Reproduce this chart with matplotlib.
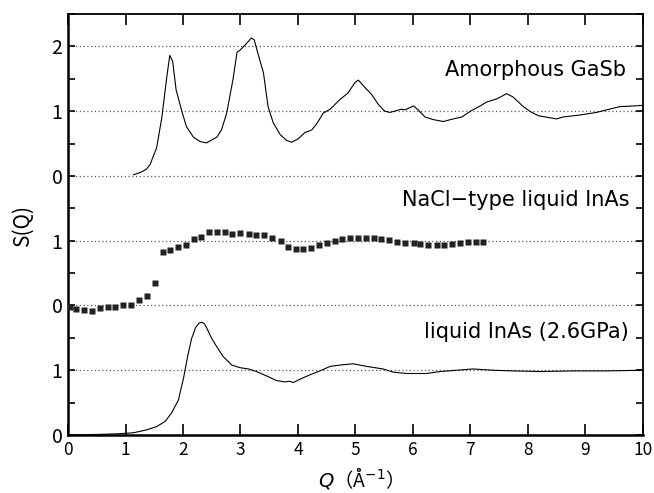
import numpy as np
import matplotlib.pyplot as plt
from matplotlib.ticker import MultipleLocator, FixedLocator

plt.rcParams['font.family'] = ['Noto Sans CJK JP', 'DejaVu Sans']

# amorphous GaSb, S(Q)
q_gasb = [1.14, 1.25, 1.36, 1.43, 1.49, 1.54, 1.63, 1.72, 1.77, 1.82, 1.88, 1.98,
          2.06, 2.18, 2.30, 2.41, 2.59, 2.67, 2.76, 2.87, 2.94, 2.99, 3.11, 3.19,
          3.24, 3.31, 3.40, 3.48, 3.57, 3.69, 3.80, 3.89, 4.00, 4.12, 4.24, 4.33,
          4.44, 4.56, 4.73, 4.87, 4.99, 5.05, 5.17, 5.28, 5.40, 5.51, 5.60, 5.72,
          5.80, 5.86, 6.01, 6.09, 6.21, 6.35, 6.53, 6.70, 6.85, 7.02, 7.17, 7.28,
          7.46, 7.63, 7.74, 7.92, 8.03, 8.18, 8.50, 8.61, 8.90, 9.19, 9.37, 9.60,
          9.83, 10.0]
s_gasb = [0.02, 0.05, 0.10, 0.18, 0.32, 0.43, 0.89, 1.54, 1.86, 1.77, 1.33, 1.00,
          0.76, 0.60, 0.53, 0.51, 0.60, 0.71, 0.97, 1.49, 1.91, 1.94, 2.05, 2.13,
          2.10, 1.87, 1.59, 1.07, 0.82, 0.64, 0.55, 0.52, 0.57, 0.67, 0.71, 0.81,
          0.97, 1.03, 1.18, 1.28, 1.44, 1.48, 1.36, 1.26, 1.10, 1.00, 0.98, 1.01,
          1.03, 1.02, 1.08, 1.02, 0.91, 0.87, 0.84, 0.88, 0.91, 1.01, 1.08, 1.14,
          1.19, 1.27, 1.22, 1.07, 1.00, 0.93, 0.88, 0.91, 0.94, 0.98, 1.02, 1.07,
          1.08, 1.09]

# NaCl-type liquid InAs, S(Q)
q_nacl = [0.03, 0.14, 0.28, 0.42, 0.56, 0.69, 0.82, 0.96, 1.10, 1.23, 1.37, 1.51,
          1.65, 1.78, 1.91, 2.05, 2.19, 2.32, 2.46, 2.60, 2.73, 2.86, 3.00, 3.14,
          3.27, 3.41, 3.55, 3.70, 3.83, 3.97, 4.09, 4.23, 4.37, 4.50, 4.64, 4.77,
          4.90, 5.04, 5.18, 5.32, 5.45, 5.59, 5.73, 5.86, 6.01, 6.13, 6.27, 6.41,
          6.54, 6.68, 6.82, 6.96, 7.09, 7.22]
s_nacl = [-0.03, -0.05, -0.07, -0.08, -0.04, -0.02, -0.03, 0.00, 0.01, 0.08, 0.14, 0.35,
          0.82, 0.86, 0.91, 0.94, 1.02, 1.05, 1.13, 1.14, 1.14, 1.11, 1.12, 1.11,
          1.09, 1.09, 1.04, 0.99, 0.90, 0.87, 0.87, 0.89, 0.93, 0.96, 1.00, 1.02,
          1.04, 1.04, 1.04, 1.04, 1.02, 1.01, 0.98, 0.97, 0.96, 0.95, 0.94, 0.93,
          0.93, 0.95, 0.96, 0.98, 0.98, 0.98]

# liquid InAs at 2.6 GPa, S(Q)
q_inas = [0.0, 0.56, 0.90, 1.14, 1.37, 1.54, 1.69, 1.80, 1.92, 2.01, 2.08, 2.15,
          2.22, 2.28, 2.33, 2.37, 2.42, 2.50, 2.59, 2.70, 2.85, 2.99, 3.14, 3.28,
          3.46, 3.63, 3.77, 3.86, 3.92, 4.03, 4.21, 4.38, 4.56, 4.73, 4.96, 5.19,
          5.48, 5.66, 5.89, 6.24, 6.47, 6.76, 7.05, 7.40, 7.74, 8.21, 8.79, 9.37,
          10.0]
s_inas = [0.0, 0.01, 0.02, 0.035, 0.08, 0.13, 0.21, 0.34, 0.54, 0.88, 1.21, 1.49,
          1.66, 1.73, 1.74, 1.72, 1.64, 1.49, 1.36, 1.21, 1.08, 1.04, 1.02, 0.98,
          0.91, 0.84, 0.82, 0.83, 0.81, 0.86, 0.93, 0.99, 1.06, 1.08, 1.10, 1.06,
          1.02, 0.97, 0.95, 0.95, 0.98, 1.00, 1.02, 1.00, 0.99, 0.98, 0.99, 0.99,
          1.00]

offsets = [0, 2, 4]
ytick_labels = ['0', '1', '0', '1', '0', '1', '2']
labels = ['liquid InAs (2.6GPa)', 'NaCl\u2212type liquid InAs', 'Amorphous GaSb']

fig = plt.figure(figsize=(6.54, 4.93), dpi=100)
ax = fig.add_axes([0.104, 0.1176, 0.879, 0.854])

for y in range(1, 7):
    ax.axhline(y, color='0.35', lw=0.9, ls=(0, (1, 2)), zorder=1)

ax.plot(q_inas, np.array(s_inas) + offsets[0], color='k', lw=0.8, zorder=3)
ax.plot(q_nacl, np.array(s_nacl) + offsets[1], 's', color='#222222', ms=5,
        mec='none', zorder=3)
ax.plot(q_gasb, np.array(s_gasb) + offsets[2], color='k', lw=0.8, zorder=3)

label_font = dict(fontsize=15, family='DejaVu Sans', ha='right', va='center')
ax.text(9.76, 1.59, labels[0], **label_font)
ax.text(9.76, 3.63, labels[1], **label_font)
ax.text(9.70, 5.64, labels[2], **label_font)

ax.set_xlim(0, 10)
ax.set_ylim(0, 6.5)
ax.xaxis.set_major_locator(MultipleLocator(1))
ax.yaxis.set_major_locator(FixedLocator(range(7)))
ax.set_yticklabels(ytick_labels)
ax.yaxis.set_minor_locator(FixedLocator([0.5, 1.5, 2.5, 3.5, 4.5, 5.5, 6.5]))
ax.tick_params(axis='x', which='major', direction='in', length=8, width=1.2,
               top=True, labelsize=12.5, pad=4)
ax.tick_params(axis='y', which='both', direction='in', length=5, width=1.2,
               right=True, labelsize=14, pad=4)

for side in ['left', 'bottom']:
    ax.spines[side].set_linewidth(1.8)
for side in ['right', 'top']:
    ax.spines[side].set_linewidth(1.3)

ax.set_xlabel('$Q$\uff08Å$^{-1}$\uff09', fontsize=14, labelpad=6)
ax.set_ylabel('S(Q)', fontsize=15, style='italic', labelpad=13)

fig.savefig('out.png', dpi=100)
